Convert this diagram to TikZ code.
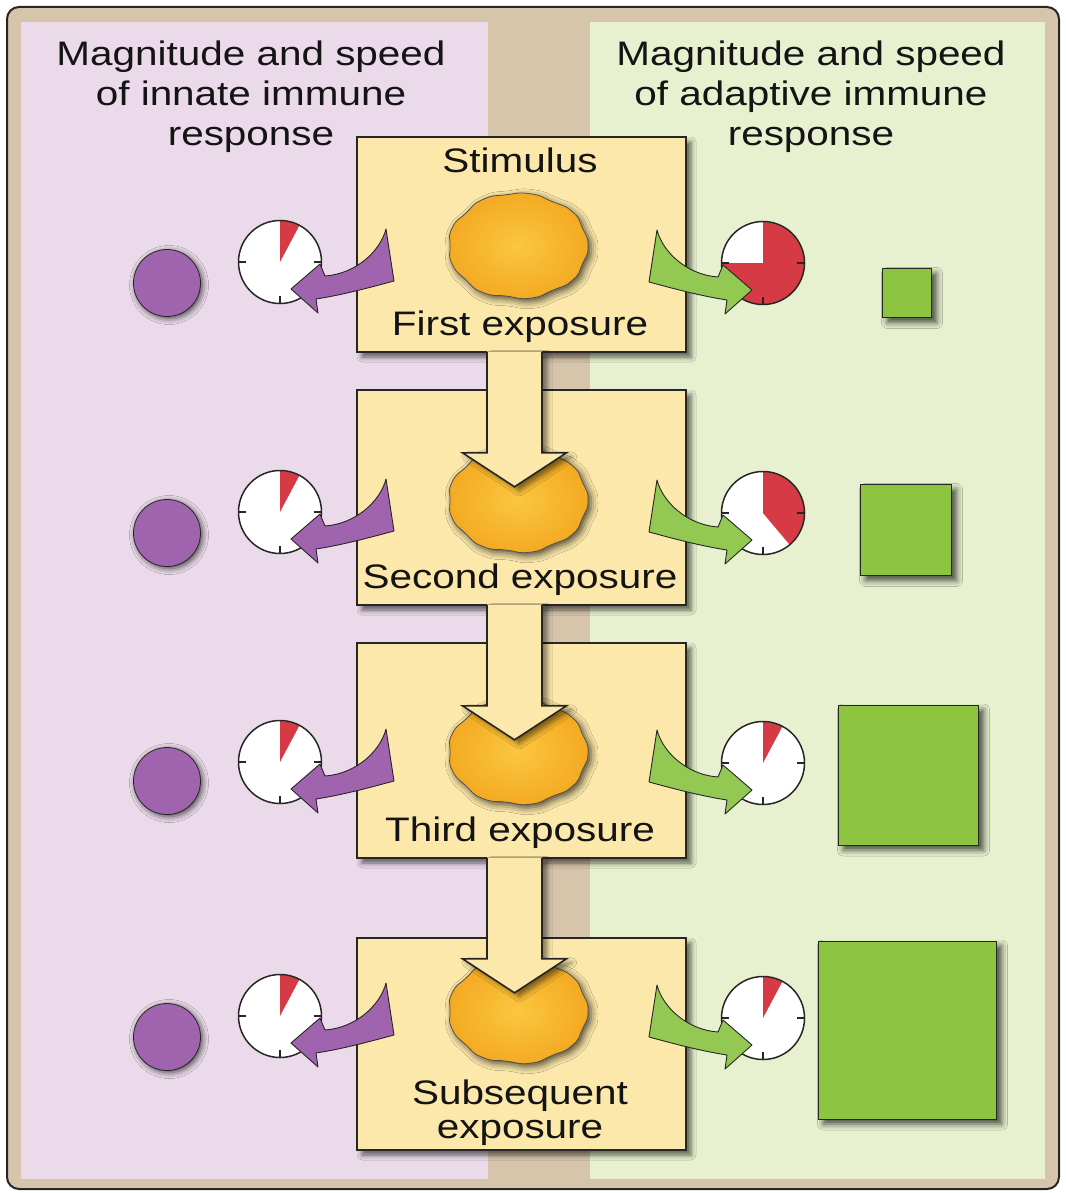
\documentclass[tikz,border=0pt]{standalone}
\usepackage{fontspec}
\setmainfont[FakeStretch=1.19]{Liberation Sans}
\usetikzlibrary{shadows.blur}

\definecolor{frametan}{HTML}{D7C5AB}
\definecolor{innatebg}{HTML}{EBDBEA}
\definecolor{adaptbg}{HTML}{E7F0CF}
\definecolor{boxfill}{HTML}{FCE8AA}
\definecolor{inkline}{HTML}{262626}
\definecolor{purplefill}{HTML}{A064AE}
\definecolor{greenfill}{HTML}{8DC440}
\definecolor{arrowgreen}{HTML}{93C952}
\definecolor{clockred}{HTML}{D63A44}
\definecolor{blobin}{HTML}{FBC640}
\definecolor{blobout}{HTML}{F4AA22}

\tikzset{
  x=1pt, y=-1pt,
  labeltext/.style={font=\fontsize{34}{40}\selectfont, text=black!92, inner sep=0pt, anchor=base},
  stimbox/.style={draw=inkline, line width=1.6pt, fill=boxfill, minimum width=329pt,
    inner sep=0pt, blur shadow={shadow xshift=5pt, shadow yshift=-5pt, shadow blur radius=5pt, shadow opacity=60}},
  clockface/.style={circle, fill=white, minimum size=83pt, inner sep=0pt},
  clockline/.style={draw=inkline, line width=1.5pt},
  innatedot/.style={circle, fill=purplefill, draw=inkline, line width=0.8pt, minimum size=67pt, inner sep=0pt,
    blur shadow={shadow xshift=2pt, shadow yshift=-2pt, shadow blur radius=6pt, shadow opacity=70}},
  adaptsq/.style={rectangle, fill=greenfill, draw=inkline, line width=0.8pt, inner sep=0pt,
    blur shadow={shadow xshift=5pt, shadow yshift=-5pt, shadow blur radius=6pt, shadow opacity=70}},
  pics/swoosh/.style={code={
    \filldraw[fill=#1, draw=inkline, line width=0.9pt, line join=round]
      (106,-33) .. controls (100,-10) and (75,12) .. (45,14) -- (40,2) -- (11,27)
      -- (38,51) -- (36,37) .. controls (62,33) and (88,26) .. (114,19) -- cycle;
  }},
  pics/blob/.style={code={
    \shadedraw[draw=inkline!80, line width=0.8pt, inner color=blobin, outer color=blobout,
      blur shadow={shadow xshift=3pt, shadow yshift=-3pt, shadow blur radius=7pt, shadow opacity=70}]
      plot[smooth cycle, tension=1] coordinates {
        (70,0) (64.5,-17.8) (54.2,-34.4) (34,-44.5) (12.2,-52.2) (-11.9,-51.2)
        (-35.4,-46.4) (-52,-33) (-65.8,-18.1) (-67.9,0) (-65.8,18.1) (-52.5,33.4)
        (-35.4,46.4) (-11.7,50.1) (12.2,52.2) (34,44.5) (54.2,34.4) (64.5,17.8)};
  }},
}

% red sector of a clock face, swept clockwise from twelve o'clock to angle #2
\newcommand\clockhand[2]{%
  \begin{scope}[shift={(#1.center)}, yscale=-1]
    \fill[clockred] (0,0) -- (90:41) arc[start angle=90, end angle=#2, radius=41] -- cycle;
    \draw[clockline] (0,0) circle[radius=41.5];
    \foreach \a in {0,180,270} \draw[clockline] (\a:41.5) -- (\a:34);
  \end{scope}}

% wide block arrow leading from one exposure box into the next
\newcommand\exposurearrow[1]{%
  \begin{scope}[shift={(#1.south)}]
    \path[fill=boxfill, blur shadow={shadow xshift=5pt, shadow yshift=-4pt, shadow blur radius=5pt, shadow opacity=50}]
      (-34.5,-1.5) -- (-34.5,100) -- (-59,100) -- (-7,134) -- (45,100) -- (20.5,100) -- (20.5,-1.5) -- cycle;
    \draw[draw=inkline, line width=1.6pt, line join=miter]
      (-34.5,-0.8) -- (-34.5,100) -- (-59,100) -- (-7,134) -- (45,100) -- (20.5,100) -- (20.5,-0.8);
  \end{scope}}

\begin{document}
\begin{tikzpicture}
\useasboundingbox (0,0) rectangle (1065,1193);

% frame and the two response panels
\draw[fill=frametan, draw=inkline, line width=2pt, rounded corners=12pt] (7,7) rectangle (1059,1189);
\fill[innatebg] (21,22) rectangle (488,1179);
\fill[adaptbg] (590,22) rectangle (1045,1179);

% column headings
\node[labeltext] (hl1) at (251,66) {Magnitude and speed};
\node[labeltext] (hl2) at (251,106) {of innate immune};
\node[labeltext] (hl3) at (251,146) {response};
\node[labeltext] (hr1) at (811,66) {Magnitude and speed};
\node[labeltext] (hr2) at (811,106) {of adaptive immune};
\node[labeltext] (hr3) at (811,146) {response};

% exposure boxes
\node[stimbox, minimum height=215pt] (b1) at (521.5,244.5) {};
\node[stimbox, minimum height=215pt] (b2) at (521.5,497.5) {};
\node[stimbox, minimum height=215pt] (b3) at (521.5,750.5) {};
\node[stimbox, minimum height=212pt] (b4) at (521.5,1044) {};

% stimulus blobs
\coordinate (s1) at (518,246);
\coordinate (s2) at (518,500);
\coordinate (s3) at (518,752);
\coordinate (s4) at (518,1011);
\pic at (s1) {blob};
\pic at (s2) {blob};
\pic at (s3) {blob};
\pic at (s4) {blob};

% arrows between successive exposures
\exposurearrow{b1}
\exposurearrow{b2}
\exposurearrow{b3}

% box labels
\node[labeltext] (t1) at (520,173) {Stimulus};
\node[labeltext] (t2) at (520,335) {First exposure};
\node[labeltext] (t3) at (520,588) {Second exposure};
\node[labeltext] (t4) at (520,841) {Third exposure};
\node[labeltext] (t5) at (520,1104) {Subsequent};
\node[labeltext] (t6) at (520,1138) {exposure};

% innate side: clocks, arrows, response dots
\node[clockface] (lc1) at (280,262) {};
\node[clockface] (lc2) at (280,512) {};
\node[clockface] (lc3) at (280,762) {};
\node[clockface] (lc4) at (280,1016) {};
\clockhand{lc1}{62}
\clockhand{lc2}{62}
\clockhand{lc3}{62}
\clockhand{lc4}{62}
\pic at (lc1.center) {swoosh=purplefill};
\pic at (lc2.center) {swoosh=purplefill};
\pic at (lc3.center) {swoosh=purplefill};
\pic at (lc4.center) {swoosh=purplefill};
\node[innatedot] (ld1) at (167,283) {};
\node[innatedot] (ld2) at (167,533) {};
\node[innatedot] (ld3) at (167,781) {};
\node[innatedot] (ld4) at (167,1037) {};

% adaptive side: clocks, arrows, response squares
\node[clockface] (rc1) at (763,263) {};
\node[clockface] (rc2) at (763,513) {};
\node[clockface] (rc3) at (763,763) {};
\node[clockface] (rc4) at (763,1018) {};
\clockhand{rc1}{-180}
\clockhand{rc2}{-50}
\clockhand{rc3}{62}
\clockhand{rc4}{62}
\pic[xscale=-1] at (rc1.center) {swoosh=arrowgreen};
\pic[xscale=-1] at (rc2.center) {swoosh=arrowgreen};
\pic[xscale=-1] at (rc3.center) {swoosh=arrowgreen};
\pic[xscale=-1] at (rc4.center) {swoosh=arrowgreen};
\node[adaptsq, minimum size=49pt] (sq1) at (907,293) {};
\node[adaptsq, minimum size=91pt] (sq2) at (906,530) {};
\node[adaptsq, minimum size=140pt] (sq3) at (908.5,775) {};
\node[adaptsq, minimum size=178pt] (sq4) at (907.5,1030) {};
\end{tikzpicture}
\end{document}
